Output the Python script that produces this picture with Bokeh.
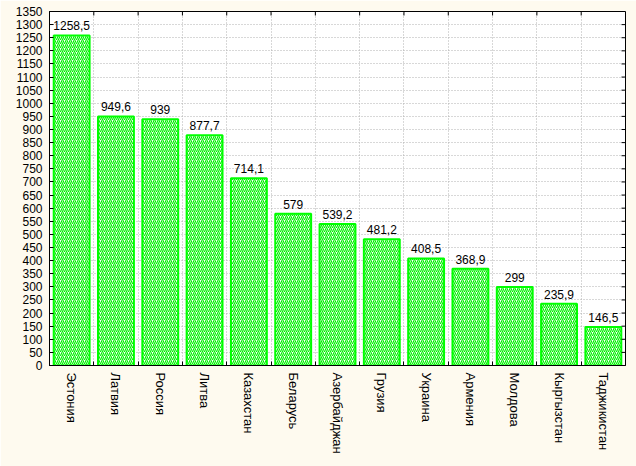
import math
from bokeh.plotting import figure
from bokeh.models import Range1d, FixedTicker, ColumnDataSource, LabelSet
from bokeh.core.properties import value
from bokeh.embed import file_html
from bokeh.resources import INLINE

# ---- data ----
countries = ["Эстония", "Латвия", "Россия", "Литва", "Казахстан", "Беларусь",
             "Азербайджан", "Грузия", "Украина", "Армения", "Молдова",
             "Кыргызстан", "Таджикистан"]
values = [1258.5, 949.6, 939, 877.7, 714.1, 579, 539.2, 481.2, 408.5,
          368.9, 299, 235.9, 146.5]
y_ticks = list(range(0, 1351, 50))

BG = "#fefaef"
FONT = "Liberation Sans"

n = len(countries)
centers = [i + 0.5 for i in range(n)]
bounds = [i for i in range(1, n)]
labels = [f"{v:g}".replace(".", ",") for v in values]

p = figure(frame_width=576, frame_height=354,
           x_range=Range1d(0, n), y_range=Range1d(0, 1350),
           output_backend="svg", toolbar_location=None,
           min_border_left=49, min_border_right=11, min_border_top=11, min_border_bottom=101,
           background_fill_color="white", border_fill_color=BG)
p.outline_line_color = "black"
p.outline_line_width = 1

src = ColumnDataSource(dict(x=centers, top=values, text=labels))
p.vbar(x="x", top="top", width=0.81, bottom=0, source=src,
       fill_color="white", line_color="#00ff00", line_width=2,
       hatch_pattern="/", hatch_color="#00f000", hatch_scale=4, hatch_weight=1.2)

lbl = LabelSet(x="x", y="top", text="text", source=src, y_offset=5,
               text_align="center", text_baseline="alphabetic",
               text_font=value(FONT), text_font_size=value("12px"), text_color="black")
p.add_layout(lbl)

# x axis (bottom)
xa = p.xaxis[0]
xa.ticker = FixedTicker(ticks=centers, minor_ticks=bounds)
xa.major_label_overrides = {c: name for c, name in zip(centers, countries)}
xa.major_label_orientation = "vertical"
xa.major_tick_in = 0
xa.major_tick_out = 0
xa.minor_tick_in = 4
xa.minor_tick_out = 0
xa.minor_tick_line_color = "black"
xa.major_label_text_font = FONT
xa.major_label_text_font_size = "13px"
xa.major_label_text_color = "black"
xa.major_label_standoff = 7
xa.axis_line_color = "black"

# y axis (left)
ya = p.yaxis[0]
ya.ticker = FixedTicker(ticks=y_ticks, minor_ticks=[])
ya.major_tick_in = 4
ya.major_tick_out = 0
ya.major_label_text_font = FONT
ya.major_label_text_font_size = "12px"
ya.major_label_text_color = "black"
ya.major_label_standoff = 7
ya.axis_line_color = "black"

# inward ticks on the right and top frame edges
p.ray(x=[n] * len(y_ticks), y=y_ticks, length=4, length_units="screen",
      angle=math.pi, line_color="black", line_width=1)
p.ray(x=bounds, y=[1350] * len(bounds), length=4, length_units="screen",
      angle=-math.pi / 2, line_color="black", line_width=1)

# grids
p.xgrid.ticker = FixedTicker(ticks=bounds, minor_ticks=[])
p.ygrid.ticker = FixedTicker(ticks=y_ticks, minor_ticks=[])
for g in (p.xgrid[0], p.ygrid[0]):
    g.grid_line_color = "#b0b0b0"
    g.grid_line_dash = "1 2"
    g.grid_line_width = 1

html = file_html(p, INLINE)
html = html.replace("<body>", '<body style="background:%s">' % BG, 1)
open("out.html", "w").write(html)
